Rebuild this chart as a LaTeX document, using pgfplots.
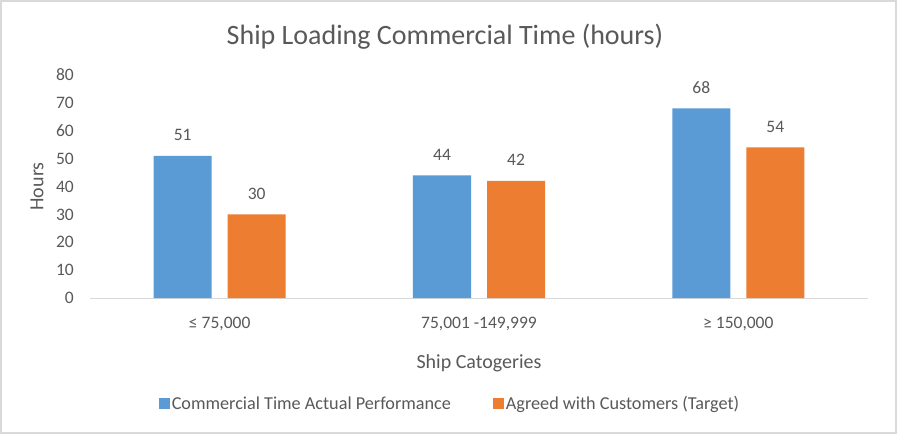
\documentclass[border=0pt]{standalone}
\usepackage{fontspec}
\setmainfont{Carlito}
\usepackage{pgfplots}
\pgfplotsset{compat=1.18}
\definecolor{barblue}{HTML}{5B9BD5}
\definecolor{barorange}{HTML}{ED7D31}
\definecolor{txt}{HTML}{595959}
\definecolor{framegray}{HTML}{D9D9D9}

\begin{document}
\begin{tikzpicture}
\useasboundingbox (0bp,0bp) rectangle (897bp,-434bp);
\fill[white] (0bp,0bp) rectangle (897bp,-434bp);
\draw[framegray,line width=1.2bp] (1bp,-1bp) rectangle (896bp,-433bp);
\node[txt,font=\fontsize{28bp}{32bp}\selectfont] at (445bp,-37bp) {Ship Loading Commercial Time (hours)};
\begin{axis}[
  at={(90bp,-298bp)}, anchor=south west,
  scale only axis, width=778bp, height=223bp,
  ymin=0, ymax=80, ytick={0,10,...,80},
  xmin=-0.5, xmax=2.5, xtick={0,1,2},
  xticklabels={{≤ 75,000},{75,001 -149,999},{≥ 150,000}},
  axis x line*=bottom, axis y line*=left,
  x axis line style={-,draw=framegray,line width=1bp},
  y axis line style={draw=none},
  major tick length=0,
  tick style={draw=none},
  /pgf/number format/assume math mode=true,
  ticklabel style={txt,font=\fontsize{17.5bp}{20bp}\selectfont},
  yticklabel style={anchor=east,inner sep=0pt,xshift=-16bp},
  xticklabel style={anchor=center,inner sep=0pt,yshift=-26bp},
  ylabel={Hours},
  ylabel style={at={(axis description cs:-0.0681,0.5)},anchor=center,txt,font=\fontsize{20bp}{24bp}\selectfont},
  xlabel={Ship Catogeries},
  xlabel style={at={(axis description cs:0.5,-0.2915)},anchor=center,txt,font=\fontsize{20bp}{24bp}\selectfont},
  ybar, bar width=0.2237,
  nodes near coords,
  nodes near coords style={txt,font=\fontsize{17.5bp}{20bp}\selectfont,inner sep=0pt,yshift=15bp},
  legend image code/.code={\fill[#1] (0bp,-5.5bp) rectangle (11bp,5.5bp);},
  legend style={at={(axis description cs:0.4627,-0.475)},anchor=center,draw=none,
    legend columns=2,font=\fontsize{18.2bp}{21bp}\selectfont,text=txt,
    nodes={inner xsep=2bp},
    /tikz/every even column/.append style={column sep=40bp}},
]
\addplot[fill=barblue,draw=none,bar shift=-0.1427] coordinates {(0,51) (1,44) (2,68)};
\addplot[fill=barorange,draw=none,bar shift=0.1427] coordinates {(0,30) (1,42) (2,54)};
\legend{Commercial Time Actual Performance, Agreed with Customers (Target)}
\end{axis}
\end{tikzpicture}
\end{document}
